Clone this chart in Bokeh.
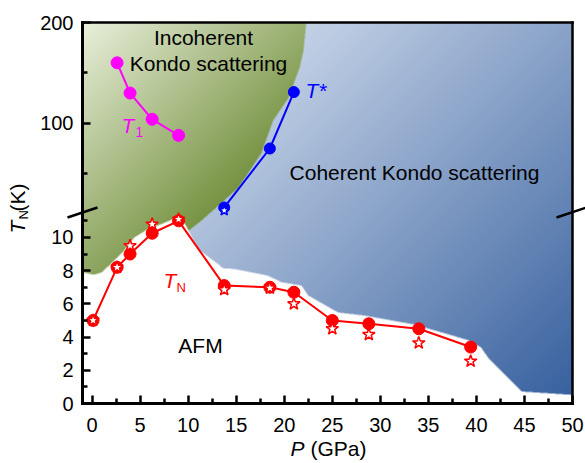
import numpy as np
from bokeh.plotting import figure
from bokeh.models import (Range1d, FixedTicker, Label, Arrow, Whisker, TeeHead,
                          ColumnDataSource, LinearAxis)
from bokeh.embed import file_html
from bokeh.resources import INLINE

# ---------------- data ----------------
# T_N (red circles, with error bars) and second T_N estimate (red stars)
TN_P = [0.1, 2.6, 3.95, 6.25, 9.0, 13.75, 18.5, 21.0, 25.0, 28.8, 34.0, 39.4]
TN_K = [5.0, 8.2, 9.0, 10.25, 11.0, 7.1, 7.0, 6.7, 5.0, 4.8, 4.5, 3.4]
TN_ERR = [0.1, 0.15, 0.2, 0.2, 0.2, 0.15, 0.1, 0.35, 0.2, 0.25, 0.25, 0.3]
STAR_K = [5.0, 8.2, 9.5, 10.8, 11.1, 6.85, 6.95, 6.0, 4.5, 4.15, 3.65, 2.55]
STAR_ERR = [0.1, 0.15, 0.25, 0.2, 0.15, 0.2, 0.1, 0.35, 0.25, 0.35, 0.4, 0.45]

# T* (blue) and T1 (magenta)
TSTAR_P = [13.75, 18.5, 21.0]
TSTAR_K = [16.5, 75.0, 131.0]
TSTAR_STAR_P = [13.75]
TSTAR_STAR_K = [13.5]
T1_P = [2.6, 3.95, 6.25, 9.0]
T1_K = [160.0, 130.0, 104.0, 88.0]

# phase boundaries
AFM_P = [-1, 0.2, 1.0, 2.0, 3.3, 4.4, 5.8, 7.2, 9.0, 9.6, 11.0, 13.1, 13.6, 14.8,
         18.3, 19.7, 21.8, 22.5, 25.6, 28.3, 33.5, 36.4, 39.2, 40.5, 41.2, 44.7, 50]
AFM_K = [7.9, 7.75, 7.9, 8.43, 9.2, 10.0, 10.5, 10.8, 11.25, 10.9, 9.3, 8.4, 8.15, 8.1,
         7.7, 7.3, 7.1, 6.5, 5.48, 5.3, 4.76, 4.28, 3.8, 3.37, 2.77, 0.72, 0.52]
GB_P = [22.3, 22.0, 21.6, 21.0, 20.5, 18.85, 17.6, 15.2, 13.4, 11.35, 9.8, 9.8]
GB_K = [200, 172, 155, 140, 126, 103, 70, 36, 20.5, 11.0, 10.3, 0]

X_TICKS = [0, 5, 10, 15, 20, 25, 30, 35, 40, 45, 50]
Y_LOW_TICKS = [0, 2, 4, 6, 8, 10]
Y_LOW_MINOR = [1, 3, 5, 7, 9, 11]
Y_UP_TICKS = [100, 200]
Y_UP_MINOR = [50, 150]

# ---------------- broken-axis mapping ----------------
BREAK = 11.5
UP_SCALE = 0.0607


def to_disp(v):
    v = np.asarray(v, dtype=float)
    return np.where(v <= BREAK, v, BREAK + (v - BREAK) * UP_SCALE)


YTOP = float(np.round(to_disp(200), 4))
XMIN, XMAX = -1.0, 50.0

# ---------------- layout (canvas pixels) ----------------
CW, CH = 585, 463
FL, FR, FT, FB = 82, 572, 22, 403          # axes box inside the canvas
SX = (FR - FL) / (XMAX - XMIN)
SY = (FB - FT) / YTOP


def dx(xpx):
    return XMIN + (xpx - FL) / SX


def dy(ypx):
    return (FB - ypx) / SY


FONT = "Liberation Sans"

p = figure(width=CW, height=CH, output_backend="svg", toolbar_location=None,
           x_range=Range1d(dx(0), dx(CW)), y_range=Range1d(dy(CH), dy(0)),
           min_border=0, x_axis_location=None, y_axis_location=None)
p.grid.visible = False
p.outline_line_color = None
p.background_fill_color = "white"
p.border_fill_color = "white"

# ---------------- gradient background image ----------------
W, H, SS = FR - FL, FB - FT, 2
xs = XMIN + (np.arange(W * SS) + 0.5) / (W * SS) * (XMAX - XMIN)
ys = (np.arange(H * SS) + 0.5) / (H * SS) * YTOP
X, Y = np.meshgrid(xs, ys)
afm_top = np.interp(X, AFM_P, to_disp(AFM_K))
gbd = to_disp(GB_K)
order = np.argsort(gbd, kind="stable")
gb_x = np.interp(Y, gbd[order], np.asarray(GB_P, float)[order])
px = FL + (X - XMIN) * SX
py = FB - Y * SY
s = (px + py)[..., None]
green_col = np.array([234, 240, 220]) - (s - 104) * np.array([0.36, 0.29, 0.48])
blue_col = np.array([197, 211, 231]) - (s - 325) * np.array([0.22, 0.178, 0.113])
rgb = np.full(X.shape + (3,), 255.0)
above = Y > afm_top
gmask = above & (X < gb_x)
bmask = above & (X >= gb_x)
rgb[gmask] = green_col[gmask]
rgb[bmask] = blue_col[bmask]
rgb = np.clip(rgb, 0, 255)
rgb = rgb.reshape(H, SS, W, SS, 3).mean(axis=(1, 3))
img = np.empty((H, W), dtype=np.uint32)
view = img.view(dtype=np.uint8).reshape((H, W, 4))
view[..., 0] = rgb[..., 0].astype(np.uint8)
view[..., 1] = rgb[..., 1].astype(np.uint8)
view[..., 2] = rgb[..., 2].astype(np.uint8)
view[..., 3] = 255
p.image_rgba(image=[img], x=XMIN, y=0, dw=XMAX - XMIN, dh=YTOP)

# ---------------- data glyphs ----------------
RED = "#ff0000"
BLUE = "#0000ff"
MAG = "#ff00ff"

p.line(T1_P, to_disp(T1_K), line_color=MAG, line_width=2)
p.scatter(T1_P, to_disp(T1_K), size=12, fill_color=MAG, line_color=MAG)

p.line(TSTAR_P, to_disp(TSTAR_K), line_color=BLUE, line_width=2)
p.scatter(TSTAR_P, to_disp(TSTAR_K), size=11, fill_color=BLUE, line_color=BLUE)
p.scatter(TSTAR_STAR_P, to_disp(TSTAR_STAR_K), marker="star", size=11,
          fill_color="white", line_color=BLUE, line_width=1.5)

tn = np.asarray(TN_K)
st = np.asarray(STAR_K)
src_c = ColumnDataSource(dict(x=TN_P, y=to_disp(tn), lo=to_disp(tn - np.asarray(TN_ERR)),
                              hi=to_disp(tn + np.asarray(TN_ERR))))
src_s = ColumnDataSource(dict(x=TN_P, y=to_disp(st), lo=to_disp(st - np.asarray(STAR_ERR)),
                              hi=to_disp(st + np.asarray(STAR_ERR))))
for src in (src_c, src_s):
    p.add_layout(Whisker(source=src, base="x", lower="lo", upper="hi",
                         line_color=RED, line_width=1.2,
                         upper_head=TeeHead(size=8, line_color=RED, line_width=1.2),
                         lower_head=TeeHead(size=8, line_color=RED, line_width=1.2)))
p.line("x", "y", source=src_c, line_color=RED, line_width=2)
p.scatter("x", "y", source=src_c, size=12, fill_color=RED, line_color=RED)
p.scatter("x", "y", source=src_s, marker="star", size=13, fill_color="white",
          line_color=RED, line_width=1.5)

# ---------------- axes (fixed at the axes box) ----------------
y_major = [float(t) for t in Y_LOW_TICKS] + [float(np.round(to_disp(t), 4)) for t in Y_UP_TICKS]
y_minor = [float(t) for t in Y_LOW_MINOR] + [float(np.round(to_disp(t), 4)) for t in Y_UP_MINOR]
y_labels = [str(t) for t in Y_LOW_TICKS] + [str(t) for t in Y_UP_TICKS]

xax = LinearAxis(fixed_location=0.0, bounds=(XMIN, XMAX),
                 ticker=FixedTicker(ticks=X_TICKS, minor_ticks=[t + 2.5 for t in X_TICKS[:-1]]))
yax = LinearAxis(fixed_location=XMIN, bounds=(0.0, YTOP),
                 ticker=FixedTicker(ticks=y_major, minor_ticks=y_minor))
yax.major_label_overrides = {k: v for k, v in zip(y_major, y_labels)}
xax.major_label_standoff = 14
yax.major_label_standoff = 9
for ax in (xax, yax):
    ax.axis_line_width = 3
    ax.axis_line_cap = "square"
    ax.major_tick_in = 8
    ax.major_tick_out = 0
    ax.minor_tick_in = 5
    ax.minor_tick_out = 0
    ax.major_tick_line_width = 2.5
    ax.minor_tick_line_width = 2.5
    ax.major_label_text_font = FONT
    ax.major_label_text_font_size = "20px"
    ax.major_label_text_color = "black"
p.add_layout(xax, "below")
p.add_layout(yax, "left")

# frame lines at the top and right
tax = LinearAxis(fixed_location=YTOP, bounds=(XMIN, XMAX), ticker=FixedTicker(ticks=[]))
rax = LinearAxis(fixed_location=XMAX, bounds=(0.0, YTOP), ticker=FixedTicker(ticks=[]))
for ax in (tax, rax):
    ax.axis_line_width = 2.5
    ax.axis_line_cap = "square"
    ax.major_tick_line_color = None
    ax.minor_tick_line_color = None
    ax.major_label_text_color = None
p.add_layout(tax, "above")
p.add_layout(rax, "right")

# axis-break marks (canvas pixels of their ends)
for (x0, y0, x1, y1) in ((67, 217, 97, 207), (556, 217, 586, 207)):
    p.add_layout(Arrow(end=None, x_start=dx(x0), y_start=dy(y0), x_end=dx(x1), y_end=dy(y1),
                       line_color="black", line_width=2.5))


# ---------------- text ----------------
SHIFT = 0.38  # baseline correction, in em


def lab(xpx, ybase, text, color="black", size=21, style="normal", align="left", rot=False):
    if rot:
        x, y, ang = dx(xpx - SHIFT * size), dy(ybase), np.pi / 2
    else:
        x, y, ang = dx(xpx), dy(ybase - SHIFT * size), 0.0
    p.add_layout(Label(x=x, y=y, text=text, text_color=color, text_font=FONT,
                       text_font_size=f"{size}px", text_font_style=style, text_align=align,
                       text_baseline="alphabetic", angle=ang))


lab(203, 45, "Incoherent", align="center")
lab(208, 71, "Kondo scattering", align="center")
lab(414, 180, "Coherent Kondo scattering", align="center")
lab(200, 353, "AFM", align="center")
lab(305, 98, "T*", color=BLUE, style="italic")
lab(121, 133, "T", color=MAG, style="italic")
lab(135, 137, "1", color=MAG, size=14)
lab(163, 288, "T", color=RED, style="italic")
lab(176, 292, "N", color=RED, size=13)
# axis titles
lab(290, 456, "P", style="italic")
lab(310, 456, "(GPa)")
lab(25, 233, "T", style="italic", rot=True)
lab(28, 219, "N", size=13, rot=True)
lab(25, 211, "(K)", rot=True)

open("out.html", "w").write(file_html(p, INLINE))
